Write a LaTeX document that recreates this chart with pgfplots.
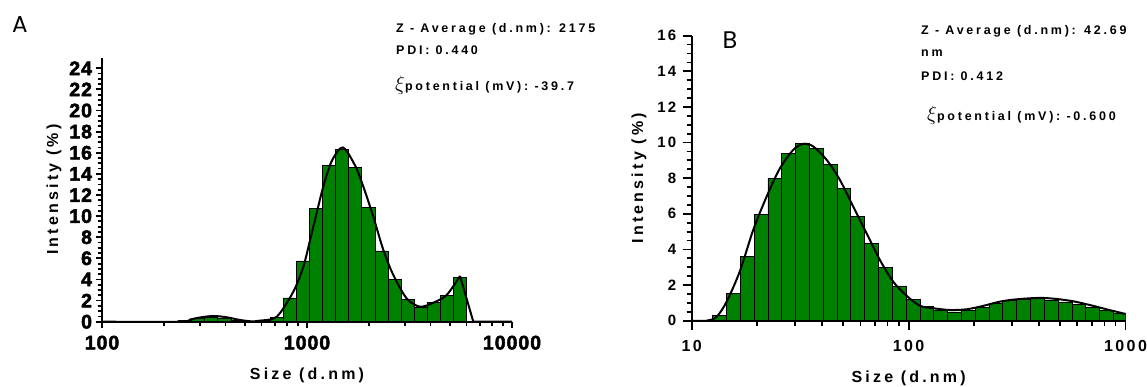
\documentclass[border=0pt]{standalone}
\usepackage{fontspec}
\usepackage{pgfplots}
\pgfplotsset{compat=1.18}
\setmainfont{Liberation Sans}
\newfontfamily\tickA[FakeBold=2.5,LetterSpace=5]{Liberation Sans Bold}
\newfontfamily\tickB[LetterSpace=15]{Liberation Sans Bold}
\newfontfamily\lab[LetterSpace=20]{Liberation Sans Bold}
\newfontfamily\ann[LetterSpace=22]{Liberation Sans Bold}
\newfontfamily\panel{Poppins}
\definecolor{barg}{RGB}{0,128,0}
\begin{document}
\begin{tikzpicture}[x=1pt,y=1pt]
\path[use as bounding box] (0,0) rectangle (1147,387);
% ---------------- Panel A ----------------
\begin{axis}[
  xmode=log, log basis x=10, scale only axis,
  axis x line=bottom, axis y line=left,
  axis line style={line width=2pt,-},
  tick align=outside,
  tick style={black,line width=1.8pt},
  minor tick length=4.5pt, major tick length=6.5pt,
  axis on top,
  /pgf/number format/assume math mode=true,
  at={(102pt,65.3pt)}, anchor=south west,
  width=410pt, height=264pt,
  xmin=100, xmax=10000, ymin=0, ymax=25,
  xtick={100,1000,10000}, xticklabels={100,1000,10000},
  minor xtick={200,300,400,500,600,700,800,900,2000,3000,4000,5000,6000,7000,8000,9000},
  ytick={0,2,...,24}, minor y tick num=3,
  ticklabel style={font=\tickA\fontsize{19.5}{20}\selectfont},
  xticklabel style={anchor=north,yshift=-4pt},
  yticklabel style={anchor=east,xshift=0pt},
  xlabel={Size (d.nm)},
  ylabel={Intensity (\%)},
  xlabel style={at={(axis description cs:0.5,0)},anchor=center,yshift=-53.3pt,font=\lab\fontsize{16}{16}\selectfont},
  ylabel style={at={(axis description cs:0,0.5)},anchor=center,yshift=48pt,font=\lab\fontsize{16}{16}\selectfont},
]
\addplot[ybar interval, fill=barg, draw=black, line width=0.8pt] coordinates {
(236.1,0.1) (273.6,0.3) (317.0,0.45) (367.2,0.35) (425.4,0.1) (492.8,0.02) (571.0,0.1) (661.4,0.4)
(766.3,2.25) (887.8,5.75) (1028.5,10.7) (1191.5,14.8) (1380.4,16.3) (1599.3,14.6) (1852.7,10.8)
(2146.2,6.7) (2486.3,4.0) (2880.5,2.1) (3337.2,1.4) (3866.2,1.8) (4479.2,2.5) (5189.8,4.2) (6011.7,0)
};
\addplot[black, line width=2pt, smooth, tension=0.5] coordinates {
(100,0) (240.3,0) (268.8,0.2) (300.6,0.4) (349.1,0.54) (405.8,0.42) (471.2,0.16) (547.0,0.02)
(589.8,0.1) (711.6,0.47) (857.6,2.84) (959.4,5.2) (1034.2,7.7) (1115.0,10.3) (1201.1,12.8)
(1319.6,15.2) (1493.4,16.5) (1714.5,14.8) (1882.3,12.8) (2106.0,9.94) (2356.4,6.8) (2636.3,4.42)
(3064.2,2.2) (3557.3,1.42) (4131.0,1.8) (4802.6,2.53) (5577.0,4.33)
};
\addplot[black, line width=2pt] coordinates {(5577.0,4.33) (6475.5,0) (10000,0)};
\end{axis}
% ---------------- Panel B ----------------
\begin{axis}[
  xmode=log, log basis x=10, scale only axis,
  axis x line=bottom, axis y line=left,
  axis line style={line width=2pt,-},
  tick align=outside,
  tick style={black,line width=1.8pt},
  minor tick length=5pt, major tick length=9pt,
  axis on top,
  /pgf/number format/assume math mode=true,
  at={(691.7pt,66.3pt)}, anchor=south west,
  width=433.8pt, height=285pt,
  xmin=10, xmax=1000, ymin=0, ymax=16,
  xtick={10,100,1000}, xticklabels={10,100,1000},
  minor xtick={20,30,40,50,60,70,80,90,200,300,400,500,600,700,800,900},
  ytick={0,2,...,16}, minor y tick num=3,
  xticklabel style={font=\tickB\fontsize{16}{16}\selectfont,anchor=north,yshift=-7pt},
  yticklabel style={font=\tickB\fontsize{15}{15}\selectfont,anchor=east,xshift=-3pt},
  xlabel={Size (d.nm)},
  ylabel={Intensity (\%)},
  xlabel style={at={(axis description cs:0.5,0)},anchor=center,yshift=-57.3pt,font=\lab\fontsize{16}{16}\selectfont},
  ylabel style={at={(axis description cs:0,0.5)},anchor=center,yshift=52.7pt,font=\lab\fontsize{16}{16}\selectfont},
]
\addplot[ybar interval, fill=barg, draw=black, line width=0.8pt] coordinates {
(12.50,0.30) (14.47,1.54) (16.76,3.63) (19.40,5.94) (22.47,8.0) (26.02,9.4) (30.13,9.97) (34.89,9.69)
(40.40,8.75) (46.78,7.4) (54.18,5.84) (62.73,4.35) (72.64,3.0) (84.12,1.95) (97.41,1.2) (112.8,0.79)
(130.6,0.56) (151.2,0.49) (175.1,0.56) (202.8,0.75) (234.9,0.98) (272.0,1.12) (314.9,1.2) (364.7,1.24)
(422.3,1.16) (489.0,1.05) (566.2,0.9) (655.7,0.75) (759.3,0.56) (879.3,0.41) (1000,0)
};
\addplot[black, line width=2pt, smooth, tension=0.5] coordinates {
(10,0) (11.72,0) (13.03,0.22) (14.49,1.07) (16.70,2.8) (19.22,5.1) (22.16,6.97) (25.52,8.56)
(29.39,9.59) (32.68,9.93) (36.34,9.78) (41.89,9.03) (48.24,7.9) (55.56,6.4) (64.07,4.9) (73.75,3.41)
(84.92,2.19) (97.90,1.4) (112.7,0.84) (129.9,0.70) (155.0,0.60) (185.0,0.64) (220.7,0.83) (263.5,1.07)
(314.6,1.2) (402.8,1.28) (480.8,1.22) (573.5,1.09) (684.6,0.88) (817.3,0.64) (974.8,0.41) (1000,0.38)
};
\end{axis}
% ---------------- Annotations ----------------
\node[anchor=center,inner sep=0pt] at (20,362) {\panel\fontsize{23}{23}\selectfont A};
\node[anchor=center,inner sep=0pt] at (730,346.5) {\panel\fontsize{24}{24}\selectfont B};
\begin{scope}[every node/.style={anchor=west,inner sep=0pt}]
\node at (396,358) {\ann\fontsize{12.5}{13}\selectfont Z - Average (d.nm): 2175};
\node at (396,337) {\ann\fontsize{12.5}{13}\selectfont PDI: 0.440};
\node at (395,302) {\fontsize{20}{20}\selectfont$\xi$\ann\fontsize{12.5}{13}\selectfont potential (mV): -39.7};
\node at (921,355.7) {\ann\fontsize{12.5}{13}\selectfont Z - Average (d.nm): 42.69};
\node at (921,333.7) {\ann\fontsize{12.5}{13}\selectfont nm};
\node at (921,310.3) {\ann\fontsize{12.5}{13}\selectfont PDI: 0.412};
\node at (927,272) {\fontsize{20}{20}\selectfont$\xi$\ann\fontsize{12.5}{13}\selectfont potential (mV): -0.600};
\end{scope}
\end{tikzpicture}
\end{document}
